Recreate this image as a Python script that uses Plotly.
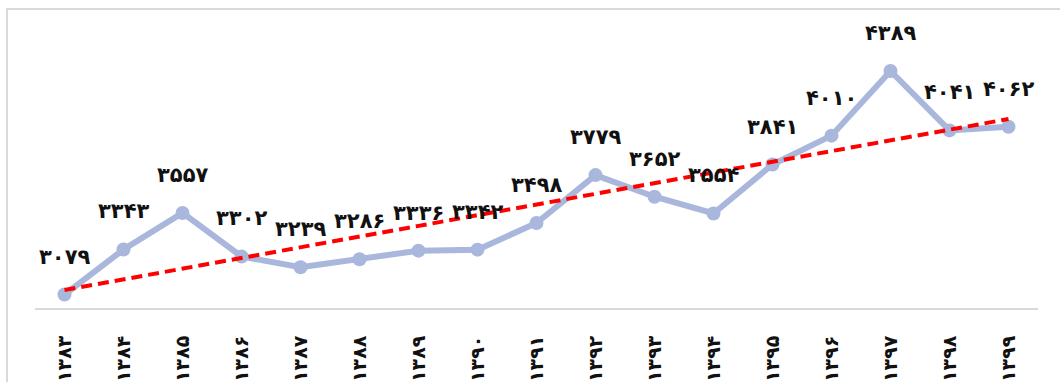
import numpy as np
import plotly.graph_objects as go

# Solar years (Persian digits) and yearly values
years = ["۱۳۸۳", "۱۳۸۴", "۱۳۸۵", "۱۳۸۶", "۱۳۸۷", "۱۳۸۸", "۱۳۸۹", "۱۳۹۰", "۱۳۹۱",
         "۱۳۹۲", "۱۳۹۳", "۱۳۹۴", "۱۳۹۵", "۱۳۹۶", "۱۳۹۷", "۱۳۹۸", "۱۳۹۹"]
values = [3079, 3343, 3557, 3302, 3239, 3286, 3336, 3342, 3498,
          3779, 3652, 3554, 3841, 4010, 4389, 4041, 4062]

PERSIAN_DIGITS = str.maketrans("0123456789", "۰۱۲۳۴۵۶۷۸۹")


def fa(n):
    return str(n).translate(PERSIAN_DIGITS)


# Linear trend over the series
idx = np.arange(len(values))
slope, intercept = np.polyfit(idx, values, 1)
trend = slope * idx + intercept

LINE_COLOR = "#A9B7DC"
FONT = "DejaVu Sans"

fig = go.Figure()
fig.add_trace(go.Scatter(
    x=years, y=values, mode="lines+markers",
    line=dict(color=LINE_COLOR, width=6),
    marker=dict(color=LINE_COLOR, size=14),
    hoverinfo="skip", showlegend=False,
))
fig.add_trace(go.Scatter(
    x=years, y=trend, mode="lines",
    line=dict(color="#FF0000", width=4, dash="11px,6px"),
    hoverinfo="skip", showlegend=False,
))

# Value labels above each point
for yr, v in zip(years, values):
    fig.add_annotation(
        x=yr, y=v, text=fa(v), showarrow=False,
        xanchor="center", yanchor="middle", yshift=38,
        font=dict(family=FONT, size=21, color="#111111", weight="bold"),
    )

# Light outer frame
fig.add_shape(
    type="rect", xref="paper", yref="paper",
    x0=-0.0279, x1=1.03, y0=-0.4, y1=1.0952,
    line=dict(color="#D9D9D9", width=2), fillcolor="rgba(0,0,0,0)",
    layer="below",
)

fig.update_layout(
    width=1060, height=382,
    margin=dict(l=35, r=22, t=35, b=74, autoexpand=False),
    paper_bgcolor="white", plot_bgcolor="white",
    xaxis=dict(
        type="category", range=[-0.5, len(years) - 0.5], automargin=False,
        showline=True, linecolor="#D9D9D9", linewidth=2,
        showgrid=False, zeroline=False, ticks="",
        tickangle=-90, ticklabelstandoff=18,
        tickfont=dict(family=FONT, size=19, color="#111111", weight="bold"),
    ),
    yaxis=dict(
        range=[3000, 4600], visible=False, showgrid=False, zeroline=False,
        automargin=False,
    ),
)

fig.write_html("out.html")
